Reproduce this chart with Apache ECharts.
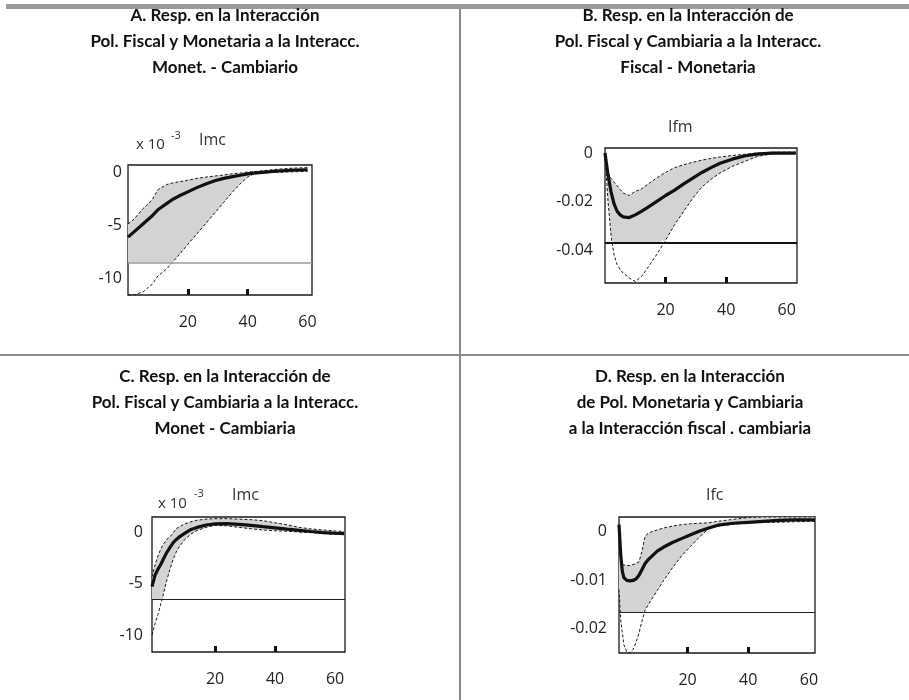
<!DOCTYPE html>
<html>
<head>
<meta charset="utf-8">
<script src="https://cdn.jsdelivr.net/npm/echarts@6/dist/echarts.min.js"></script>
<style>
html,body{margin:0;padding:0;background:#fff;}
#chart{width:909px;height:700px;}
</style>
</head>
<body>
<div id="chart"></div>
<script>
// ---------------- DATA ----------------
// Panel A (x 10^-3, Imc)
const xA     = [0, 2, 5, 8, 10, 13, 15, 17, 20, 23, 26, 29, 32, 35, 38, 40, 42, 45, 50, 55, 60];
const meanA  = [-6.1, -5.6, -4.85, -4.1, -3.5, -2.9, -2.5, -2.2, -1.8, -1.4, -1.05, -0.75, -0.52, -0.35, -0.2, -0.1, -0.03, 0.05, 0.18, 0.25, 0.3];
const upperA = [-4.85, -4.4, -3.4, -2.6, -1.6, -1.1, -0.95, -0.85, -0.7, -0.52, -0.4, -0.3, -0.2, -0.08, 0, 0.08, 0.12, 0.2, 0.35, 0.45, 0.5];
const lowerA = [-11.6, -11.6, -11.3, -10.6, -9.8, -9.1, -8.45, -7.8, -6.8, -5.8, -4.8, -3.8, -2.8, -1.8, -0.9, -0.4, -0.1, 0, 0.05, 0.1, 0.15];
const refA = -8.5;

// Panel B (Ifm)
const xB     = [0, 1, 2, 3, 4, 5, 6, 8, 10, 12, 14, 17, 20, 23, 26, 29, 32, 35, 38, 42, 46, 50, 55, 60, 63];
const meanB  = [0, -0.009, -0.016, -0.021, -0.024, -0.0255, -0.0263, -0.0266, -0.0255, -0.024, -0.0225, -0.02, -0.0175, -0.0153, -0.0127, -0.0103, -0.008, -0.006, -0.0042, -0.0025, -0.0012, -0.0004, 0, 0, 0];
const upperB = [0, -0.008, -0.0105, -0.012, -0.0135, -0.015, -0.0165, -0.0175, -0.0158, -0.0148, -0.013, -0.0103, -0.008, -0.006, -0.0048, -0.0038, -0.0029, -0.0022, -0.0016, -0.001, -0.0005, 0, 0.0003, 0.0004, 0.0004];
const lowerB = [0, -0.02, -0.034, -0.042, -0.046, -0.048, -0.0495, -0.0515, -0.053, -0.051, -0.0475, -0.042, -0.036, -0.0295, -0.024, -0.0186, -0.014, -0.0108, -0.0082, -0.0055, -0.0035, -0.0015, -0.0003, 0, 0];
const refB = -0.037;

// Panel C (x 10^-3, Imc)
const xC     = [-1, 0, 1, 2, 3, 4, 5, 6, 7, 8, 10, 12, 14, 17, 20, 24, 28, 32, 36, 40, 44, 48, 52, 56, 60, 63];
const meanC  = [-5.3, -4.2, -3.6, -3.1, -2.5, -1.95, -1.5, -1.05, -0.75, -0.5, -0.1, 0.25, 0.45, 0.68, 0.8, 0.82, 0.75, 0.65, 0.52, 0.4, 0.28, 0.17, 0.05, -0.05, -0.12, -0.15];
const upperC = [-4.35, -3.2, -2.3, -1.6, -1.1, -0.7, -0.45, -0.1, 0.3, 0.5, 0.8, 1.0, 1.15, 1.25, 1.3, 1.3, 1.25, 1.2, 1.1, 0.9, 0.7, 0.45, 0.3, 0.2, 0.1, 0.05];
const lowerC = [-10, -8.9, -8.0, -6.9, -5.8, -4.6, -3.6, -2.7, -2.0, -1.45, -0.7, -0.2, 0.15, 0.45, 0.65, 0.6, 0.45, 0.32, 0.2, 0.12, 0.08, 0, -0.06, -0.14, -0.22, -0.25];
const refC = -6.5;

// Panel D (Ifc)
const xD     = [-2.6, -2, -1.5, -1, 0, 1, 2, 3, 4, 5, 6, 7, 8, 10, 12, 15, 18, 21, 24, 27, 30, 35, 40, 45, 50, 55, 60, 62];
const meanD  = [0.0015, -0.005, -0.0082, -0.0095, -0.0101, -0.0102, -0.0101, -0.0098, -0.009, -0.0078, -0.0066, -0.0058, -0.0052, -0.004, -0.0032, -0.0022, -0.0014, -0.0006, 0.0002, 0.0008, 0.0014, 0.0018, 0.002, 0.0022, 0.0024, 0.0025, 0.0025, 0.0025];
const upperD = [0.0015, -0.004, -0.0068, -0.007, -0.007, -0.007, -0.0068, -0.0066, -0.0062, -0.004, -0.0009, -0.0003, 0, 0.0004, 0.0008, 0.0012, 0.0015, 0.0017, 0.0018, 0.0019, 0.0022, 0.0026, 0.003, 0.0031, 0.0031, 0.0031, 0.0031, 0.0031];
const lowerD = [-0.012, -0.0185, -0.021, -0.0235, -0.025, -0.0252, -0.0245, -0.023, -0.021, -0.0185, -0.0163, -0.0152, -0.0142, -0.0122, -0.0102, -0.0075, -0.005, -0.003, -0.001, 0.0007, 0.0012, 0.0016, 0.0019, 0.002, 0.002, 0.0021, 0.0022, 0.0022];
const refD = -0.0168;

// tick labels
const xTickMarks  = [20, 40];
const xTickLabels = [20, 40, 60];
const yTicksA = [0, -5, -10];
const yTicksB = [0, -0.02, -0.04];
const yTicksC = [0, -5, -10];
const yTicksD = [0, -0.01, -0.02];

// texts
const titleA = 'A. Resp. en la Interacción\nPol. Fiscal y Monetaria a la Interacc.\nMonet. - Cambiario';
const titleB = 'B. Resp. en la Interacción de\nPol. Fiscal y Cambiaria a la Interacc.\nFiscal - Monetaria';
const titleC = 'C. Resp. en la Interacción de\nPol. Fiscal y Cambiaria a la Interacc.\nMonet - Cambiaria';
const titleD = 'D. Resp. en la Interacción\nde Pol. Monetaria y Cambiaria\na la Interacción fiscal . cambiaria';

// ---------------- LAYOUT ----------------
const TFONT = 'Lato';
const AFONT = 'Open Sans';
const panels = [
  {x: xA, mean: meanA, up: upperA, lo: lowerA, ref: refA, refColor: '#9a9a9a', refWidth: 1.5, yt: yTicksA,
   grid: {left: 128, top: 165, width: 184, height: 130}, xmin: 0, xmax: 61.5, ymin: -11.6, ymax: 0.75, ylm: 6},
  {x: xB, mean: meanB, up: upperB, lo: lowerB, ref: refB, refColor: '#111', refWidth: 2, yt: yTicksB,
   grid: {left: 605, top: 148, width: 192, height: 135}, xmin: 0, xmax: 63.4, ymin: -0.0536, ymax: 0.0021, ylm: 12},
  {x: xC, mean: meanC, up: upperC, lo: lowerC, ref: refC, refColor: '#222', refWidth: 1.2, yt: yTicksC,
   grid: {left: 152, top: 517, width: 193, height: 135}, xmin: -1, xmax: 63.3, ymin: -11.65, ymax: 1.46, ylm: 9},
  {x: xD, mean: meanD, up: upperD, lo: lowerD, ref: refD, refColor: '#222', refWidth: 1.2, yt: yTicksD,
   grid: {left: 619, top: 517, width: 196, height: 136}, xmin: -2.6, xmax: 62, ymin: -0.0252, ymax: 0.0031, ylm: 12}
];

const grids = [], xAxes = [], yAxes = [], series = [];
panels.forEach((p, i) => {
  grids.push(Object.assign({show: true, borderColor: '#1a1a1a', borderWidth: 1.3, backgroundColor: 'transparent'}, p.grid));
  xAxes.push({
    type: 'value', gridIndex: i, min: p.xmin, max: p.xmax,
    axisLine: {show: false, onZero: false}, splitLine: {show: false},
    axisTick: {show: true, inside: true, length: 6, customValues: xTickMarks, lineStyle: {width: 3, color: '#111'}},
    axisLabel: {customValues: xTickLabels, margin: 19, fontSize: 16, color: '#222', fontFamily: AFONT}
  });
  yAxes.push({
    type: 'value', gridIndex: i, min: p.ymin, max: p.ymax,
    axisLine: {show: false, onZero: false}, splitLine: {show: false}, axisTick: {show: false},
    axisLabel: {customValues: p.yt, margin: p.ylm, fontSize: 16, color: '#222', fontFamily: AFONT,
                formatter: v => String(v)}
  });
  // band between the upper bound and the lower bound (cut at the reference line)
  const loCut = p.lo.map(v => Math.max(v, p.ref));
  const xs = p.x, up = p.up;
  series.push({
    type: 'custom', xAxisIndex: i, yAxisIndex: i, silent: true, clip: true, z: 1,
    data: xs.map((xv, k) => [xv, up[k], loCut[k]]),
    encode: {x: 0, y: [1, 2]},
    renderItem: (params, api) => {
      if (params.dataIndex !== 0) return null;
      const pts = [];
      for (let k = 0; k < xs.length; k++) pts.push(api.coord([xs[k], up[k]]));
      for (let k = xs.length - 1; k >= 0; k--) pts.push(api.coord([xs[k], loCut[k]]));
      return {type: 'polygon', shape: {points: pts}, style: {fill: '#d3d3d3', stroke: null}};
    }
  });
  series.push({
    type: 'line', xAxisIndex: i, yAxisIndex: i, data: xs.map((xv, k) => [xv, up[k]]),
    symbol: 'none', lineStyle: {color: '#1a1a1a', width: 1, type: [3, 2]}, z: 4,
    markLine: {silent: true, symbol: 'none', precision: 6, label: {show: false},
      lineStyle: {color: p.refColor, width: p.refWidth, type: 'solid'}, data: [{yAxis: p.ref}]}
  });
  series.push({
    type: 'line', xAxisIndex: i, yAxisIndex: i, data: xs.map((xv, k) => [xv, p.lo[k]]),
    symbol: 'none', lineStyle: {color: '#1a1a1a', width: 1, type: [3, 2]}, z: 4
  });
  series.push({
    type: 'line', xAxisIndex: i, yAxisIndex: i, data: xs.map((xv, k) => [xv, p.mean[k]]),
    symbol: 'none', lineStyle: {color: '#111', width: 3.2}, z: 5
  });
});

const tstyle = {fontFamily: TFONT, fontWeight: 'bold', fontSize: 17, color: '#111', lineHeight: 26, align: 'center'};
const titles = [
  {text: titleA, left: 225, top: 3, textAlign: 'center', padding: 0, textStyle: tstyle},
  {text: titleB, left: 688, top: 3, textAlign: 'center', padding: 0, textStyle: tstyle},
  {text: titleC, left: 225, top: 364, textAlign: 'center', padding: 0, textStyle: tstyle},
  {text: titleD, left: 690, top: 364, textAlign: 'center', padding: 0, textStyle: tstyle}
];

function txt(s, x, y, size) {
  return {type: 'text', left: x, top: y, style: {text: s, fontSize: size, fontFamily: AFONT, fill: '#333'}, silent: true};
}

const graphics = [
  {type: 'rect', shape: {x: 6, y: 4, width: 903, height: 5}, style: {fill: '#9a9a9a'}, silent: true},
  {type: 'rect', shape: {x: 459, y: 9, width: 2, height: 691}, style: {fill: '#8a8a8a'}, silent: true},
  {type: 'rect', shape: {x: 0, y: 354, width: 909, height: 2}, style: {fill: '#8a8a8a'}, silent: true},
  txt('x 10', 136, 137, 15), txt('-3', 171, 130, 11), txt('Imc', 199, 132, 16),
  txt('Ifm', 668, 119, 16),
  txt('x 10', 158, 496, 15), txt('-3', 194, 488, 11), txt('Imc', 232, 487, 16),
  txt('Ifc', 706, 487, 16)
];

const chart = echarts.init(document.getElementById('chart'), null, {renderer: 'canvas'});
chart.setOption({
  animation: false,
  backgroundColor: '#fff',
  title: titles,
  grid: grids,
  xAxis: xAxes,
  yAxis: yAxes,
  series: series,
  graphic: graphics
});
</script>
</body>
</html>
